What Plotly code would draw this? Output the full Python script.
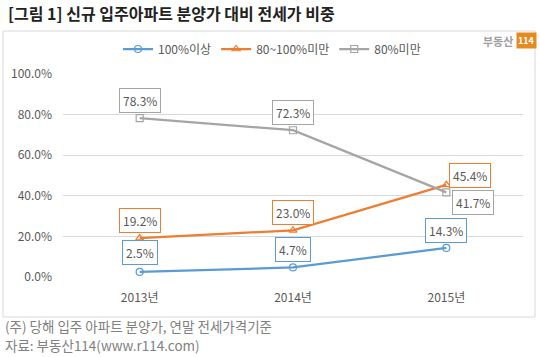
import plotly.graph_objects as go

categories = ["2013년", "2014년", "2015년"]
series_names = ["100%이상", "80~100%미만", "80%미만"]
s_100_over = [2.5, 4.7, 14.3]
s_80_100 = [19.2, 23.0, 45.4]
s_80_under = [78.3, 72.3, 41.7]
y_ticks = [0, 20, 40, 60, 80, 100]
y_tick_labels = ["0.0%", "20.0%", "40.0%", "60.0%", "80.0%", "100.0%"]

W, H = 540, 357
L, R, T, B = 63, 17, 74, 80
PW, PH = W - L - R, H - T - B

def px(x):
    return (x - L) / PW

def py(y):
    return (H - B - y) / PH

FONT = "Noto Sans CJK KR"
colors = ["#5B9BD5", "#ED7D31", "#A5A5A5"]
symbols = ["circle-open", "triangle-up-open", "square-open"]
series = [s_100_over, s_80_100, s_80_under]

fig = go.Figure()
for name, vals, c, sym in zip(series_names, series, colors, symbols):
    fig.add_trace(go.Scatter(
        x=categories, y=vals, name=name, mode="lines+markers",
        line=dict(color=c, width=2.25),
        marker=dict(symbol=sym, size=7, color=c, line=dict(width=1.2, color=c)),
        hoverinfo="skip",
    ))

# data labels: (series index, point index, xshift, yshift)
label_pos = [
    (0, 0, 0, 19), (0, 1, 0, 18), (0, 2, 0, 17),
    (1, 0, 0, 18), (1, 1, 0, 18), (1, 2, 24, 9),
    (2, 0, 0, 18), (2, 1, 0, 18), (2, 2, 27, -10),
]
for si, pi, xs, ys in label_pos:
    v = series[si][pi]
    fig.add_annotation(
        x=categories[pi], y=v, xref="x", yref="y",
        text=f"{v:.1f}%", showarrow=False, xshift=xs, yshift=ys,
        font=dict(family=FONT, size=12, color="#595959"),
        bgcolor="white", bordercolor=colors[si], borderwidth=1, borderpad=3,
    )

# outer chart border
fig.add_shape(type="rect", xref="paper", yref="paper",
              x0=px(3), x1=px(535), y0=py(317), y1=py(31),
              line=dict(color="#D9D9D9", width=1), layer="below")

# title
fig.add_annotation(xref="paper", yref="paper", x=px(6), y=py(13),
                   xanchor="left", yanchor="middle", showarrow=False,
                   text="<b>[그림 1] 신규 입주아파트 분양가 대비 전세가 비중</b>",
                   font=dict(family=FONT, size=16, color="#222222"))

# logo
fig.add_annotation(xref="paper", yref="paper", x=px(515), y=py(41),
                   xanchor="right", yanchor="middle", showarrow=False,
                   text="<b>부동산</b>",
                   font=dict(family=FONT, size=11, color="#A0A0A0"))
fig.add_annotation(xref="paper", yref="paper", x=px(516), y=py(40),
                   xanchor="left", yanchor="middle", showarrow=False,
                   text="<b>114</b>", bgcolor="#E58A1F", borderpad=1,
                   font=dict(family=FONT, size=9, color="white"))

# footnotes
fig.add_annotation(xref="paper", yref="paper", x=px(3), y=py(326),
                   xanchor="left", yanchor="middle", showarrow=False,
                   text="(주) 당해 입주 아파트 분양가, 연말 전세가격기준",
                   font=dict(family=FONT, size=13.5, color="#808080"))
fig.add_annotation(xref="paper", yref="paper", x=px(3), y=py(345),
                   xanchor="left", yanchor="middle", showarrow=False,
                   text="자료: 부동산114(www.r114.com)",
                   font=dict(family=FONT, size=13.5, color="#808080"))

fig.update_layout(
    width=W, height=H,
    margin=dict(l=L, r=R, t=T, b=B, autoexpand=False),
    paper_bgcolor="white", plot_bgcolor="white",
    font=dict(family=FONT, size=12, color="#595959"),
    showlegend=True,
    hovermode=False,
    legend=dict(orientation="h", x=px(118), y=py(49), xanchor="left", yanchor="middle",
                font=dict(family=FONT, size=12, color="#595959"),
                itemwidth=30, bgcolor="rgba(0,0,0,0)", tracegroupgap=0),
    xaxis=dict(type="category", range=[-0.5, 2.5], showgrid=False, zeroline=False,
               showline=False, ticks="", ticklabelstandoff=12,
               tickfont=dict(family=FONT, size=12, color="#595959")),
    yaxis=dict(range=[0, 100], tickvals=y_ticks, ticktext=y_tick_labels,
               showgrid=True, gridcolor="#D9D9D9", gridwidth=1, zeroline=False,
               showline=False, ticks="", ticklabelstandoff=10,
               tickfont=dict(family=FONT, size=12, color="#595959")),
)

fig.write_html("out.html", config={"displayModeBar": False},
               post_script="document.body.style.margin='0';")
